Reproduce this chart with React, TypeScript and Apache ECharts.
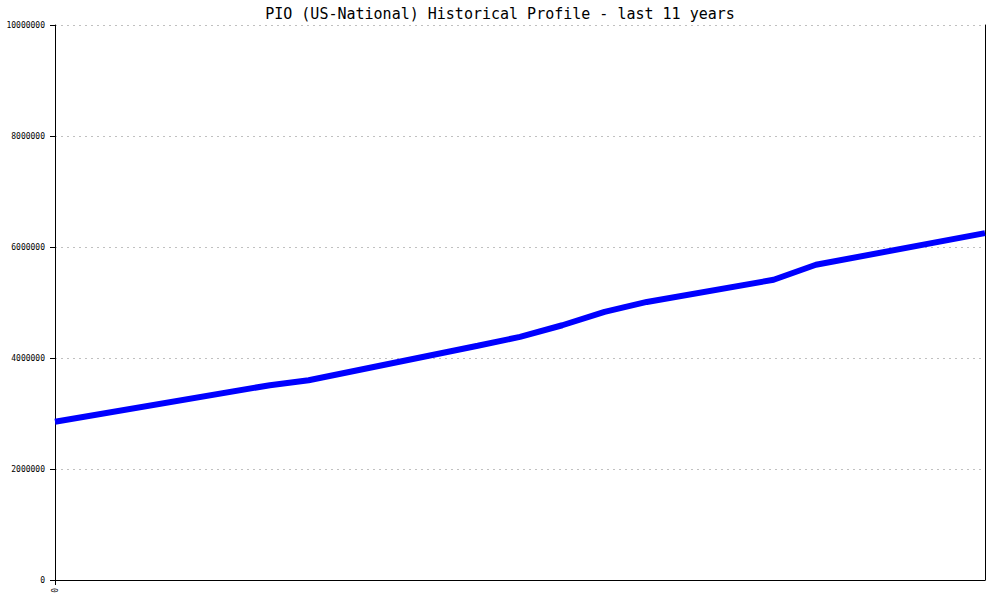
import React, { useEffect, useRef } from "react";
import * as echarts from "echarts";

const titleText = "PIO (US-National) Historical Profile - last 11 years";
// months since start of window
const months = [0, 30.5, 36, 60, 66, 72, 78, 84, 102, 108, 132];
const values = [2850000, 3510000, 3600000, 4220000, 4380000, 4590000, 4830000, 5010000, 5410000, 5680000, 6250000];
const yMax = 10000000;
const yStep = 2000000;

export default function App() {
  const ref = useRef<HTMLDivElement>(null);
  useEffect(() => {
    const chart = echarts.init(ref.current!, null, { renderer: "svg" });
    const mono = "DejaVu Sans Mono, monospace";
    chart.setOption({
      animation: false,
      backgroundColor: "#ffffff",
      title: {
        text: titleText,
        left: "center",
        top: 1,
        textStyle: { fontFamily: mono, fontSize: 15, fontWeight: "normal", color: "#000" },
      },
      grid: { left: 55, right: 15, top: 25, bottom: 20, containLabel: false, outerBoundsMode: "none" },
      xAxis: {
        type: "value",
        min: 0,
        max: 132,
        interval: 132,
        splitLine: { show: false },
        axisLine: { show: true, lineStyle: { color: "#000", width: 1 } },
        axisTick: { show: true, length: 5, lineStyle: { color: "#000" }, customValues: [0] },
        axisLabel: {
          rotate: 90,
          fontFamily: mono,
          fontSize: 8,
          color: "#000",
          margin: 8,
          customValues: [0],
          formatter: (v: number) => (v === 0 ? "0" : ""),
        },
      },
      yAxis: [
        {
          type: "value",
          min: 0,
          max: yMax,
          interval: yStep,
          axisLine: { show: true, lineStyle: { color: "#000", width: 1 } },
          axisTick: { show: true, length: 5, lineStyle: { color: "#000" } },
          axisLabel: { fontFamily: mono, fontSize: 8, color: "#000", margin: 10, formatter: (v: number) => String(v) },
          splitLine: { show: true, lineStyle: { color: "#c0c0c0", type: [2, 4], width: 1 } },
        },
        {
          type: "value",
          position: "right",
          min: 0,
          max: yMax,
          interval: yStep,
          axisLine: { show: true, lineStyle: { color: "#000", width: 1 } },
          axisTick: { show: false },
          axisLabel: { show: false },
          splitLine: { show: false },
        },
      ],
      series: [
        {
          type: "line",
          data: months.map((m, i) => [m, values[i]]),
          showSymbol: false,
          lineStyle: { color: "#0000ff", width: 6 },
          itemStyle: { color: "#0000ff" },
        },
      ],
    });
    return () => chart.dispose();
  }, []);
  return <div ref={ref} style={{ position: "fixed", left: 0, top: 0, width: 1000, height: 600 }} />;
}
